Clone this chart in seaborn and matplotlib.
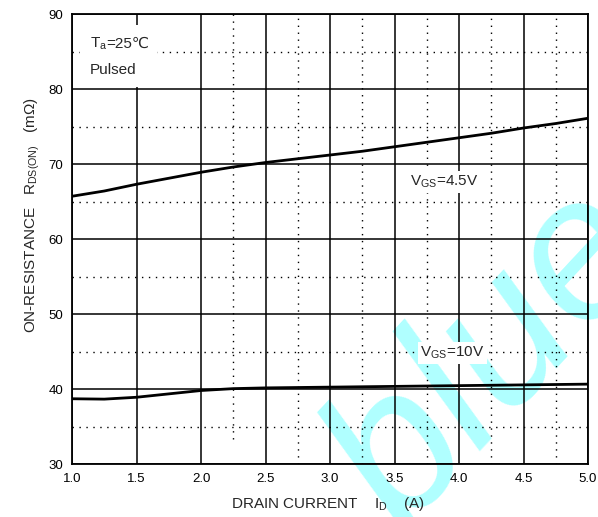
import numpy as np
import pandas as pd
import seaborn as sns
import matplotlib.pyplot as plt
from matplotlib.patches import Rectangle

# drain current (A) and on-resistance (mOhm)
current = [1.0, 1.25, 1.5, 1.75, 2.0, 2.25, 2.5, 2.75, 3.0, 3.25, 3.5, 3.75, 4.0, 4.25, 4.5, 4.75, 5.0]
r_vgs_45 = [65.7, 66.4, 67.3, 68.1, 68.9, 69.6, 70.2, 70.7, 71.2, 71.7, 72.3, 72.9, 73.5, 74.1, 74.8, 75.4, 76.1]
r_vgs_10 = [38.7, 38.65, 38.9, 39.35, 39.8, 40.05, 40.15, 40.2, 40.25, 40.3, 40.35, 40.4, 40.45, 40.5, 40.55, 40.6, 40.65]
vgs = ["4.5V", "10V"]

df = pd.DataFrame({
    "I_D": current * 2,
    "R": r_vgs_45 + r_vgs_10,
    "VGS": [vgs[0]] * len(current) + [vgs[1]] * len(current),
})

sns.set_style("white")
plt.rcParams["font.family"] = ["Liberation Sans", "DejaVu Sans"]
plt.rcParams["mathtext.fontset"] = "custom"
plt.rcParams["mathtext.rm"] = "Liberation Sans"
plt.rcParams["mathtext.it"] = "Liberation Sans:italic"
plt.rcParams["mathtext.bf"] = "Liberation Sans:bold"

fig = plt.figure(figsize=(5.98, 5.17), dpi=100)
ax = fig.add_axes([0.1204, 0.1025, 0.8629, 0.8704])

sns.lineplot(data=df, x="I_D", y="R", hue="VGS", palette={"4.5V": "black", "10V": "black"},
             linewidth=2.0, legend=False, ax=ax, zorder=3)

ax.set_xlim(1, 5)
ax.set_ylim(30, 90)
ax.set_xticks(np.arange(1, 5.01, 0.5))
ax.set_yticks(np.arange(30, 91, 10))
ax.set_xticks(np.arange(1, 5, 0.25), minor=True)
ax.set_yticks(np.arange(35, 90, 10), minor=True)
ax.xaxis.set_major_formatter("{x:.1f}")
ax.set_axisbelow(True)
ax.grid(which="major", color="black", linewidth=1.1)
ax.grid(which="minor", axis="y", color="black", linewidth=1.0, linestyle=(0, (1, 4)))
# dotted verticals only from 2.25 on (the first one stops short of the bottom)
minor_x = np.arange(2.25, 5, 0.5)
ax.vlines(minor_x, [33.3] + [30] * (len(minor_x) - 1), 90, color="black",
          linewidth=1.0, linestyle=(0, (1, 4)), zorder=0.6)

for s in ax.spines.values():
    s.set_color("black")
    s.set_linewidth(1.3)
ax.tick_params(which="major", direction="in", length=0, labelsize=9.5, pad=6.5, colors="black")
ax.tick_params(which="minor", direction="in", length=3, width=1, colors="black")

ax.set_xlabel(r"DRAIN CURRENT    $\mathregular{I_D}$    (A)", fontsize=11)
ax.set_ylabel(r"ON-RESISTANCE   $\mathregular{R_{DS(ON)}}$   (mΩ)", fontsize=11)
ax.xaxis.set_label_coords(0.497, -0.068)
ax.yaxis.set_label_coords(-0.058, 0.553)

# condition box top-left
ax.add_patch(Rectangle((0.0155, 0.838), 0.149, 0.137, transform=ax.transAxes,
                       facecolor="white", edgecolor="none", zorder=1))
ax.text(1.14, 85.5, r"$\mathregular{T_a}$", fontsize=11, va="baseline", zorder=4)
ax.text(1.265, 85.5, "=25℃", fontsize=11, va="baseline", zorder=4)
ax.text(1.14, 82.0, "Pulsed", fontsize=11, va="baseline", zorder=4)

box = dict(facecolor="white", edgecolor="none", pad=2)
ax.text(3.62, 67.1, r"$\mathregular{V_{GS}}$=4.5V", fontsize=11, va="baseline", bbox=box, zorder=4)
ax.text(3.70, 44.3, r"$\mathregular{V_{GS}}$=10V", fontsize=11, va="baseline", bbox=box, zorder=4)

# watermark
ax.text(0.815, 0.235, "blue", transform=ax.transAxes, rotation=47, rotation_mode="anchor",
        fontsize=145, style="italic", color="#b0ffff", ha="center", va="center",
        zorder=0.2, clip_on=False)

fig.savefig("out.png", dpi=100)
